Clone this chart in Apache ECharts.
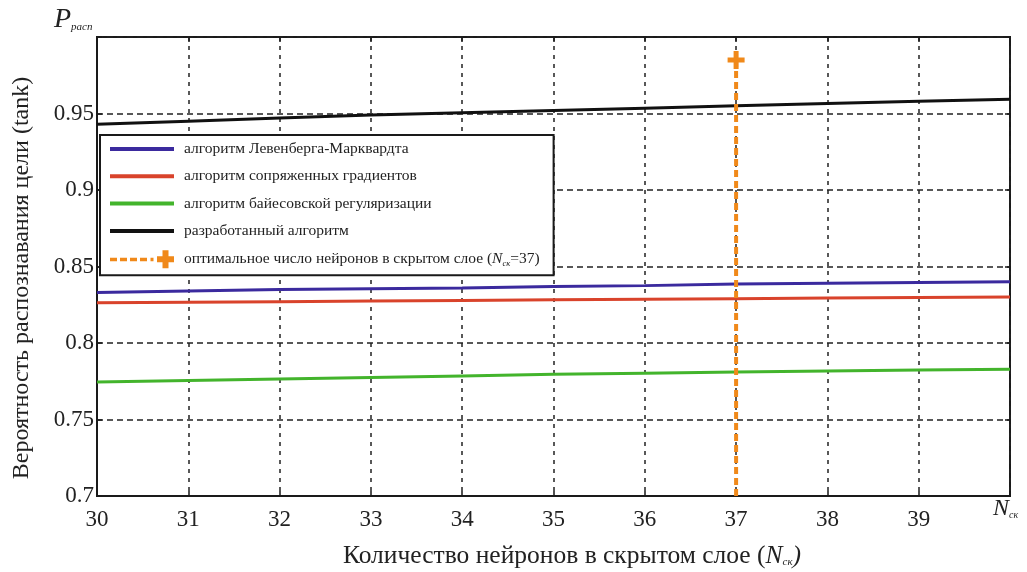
<!DOCTYPE html>
<html>
<head>
<meta charset="utf-8">
<script src="https://cdn.jsdelivr.net/npm/echarts@6/dist/echarts.min.js"></script>
<style>
  html, body { margin: 0; padding: 0; background: #ffffff; }
  #chart { width: 1027px; height: 572px; }
</style>
</head>
<body>
<div id="chart"></div>
<script>
// Hidden-layer size (number of neurons)
const neurons = [30, 31, 32, 33, 34, 35, 36, 37, 38, 39, 40];

// Recognition probability for each training algorithm
const levenbergMarquardt = [0.833, 0.834, 0.835, 0.8355, 0.836, 0.837, 0.8375, 0.8385, 0.839, 0.8395, 0.840];
const conjugateGradient  = [0.8263, 0.8267, 0.827, 0.8274, 0.8278, 0.8282, 0.8286, 0.829, 0.8294, 0.8298, 0.8301];
const bayesianReg        = [0.7745, 0.7755, 0.7765, 0.7775, 0.7785, 0.7795, 0.7803, 0.781, 0.7817, 0.7823, 0.7828];
const developedAlgo      = [0.943, 0.945, 0.947, 0.949, 0.9505, 0.952, 0.9535, 0.955, 0.9565, 0.958, 0.9593];

// Optimal hidden-layer size marker
const optimalN = 37;
const optimalSpan = [0.7, 0.985];

// Axis ranges and tick steps
const xRange = [30, 40];
const yRange = [0.7, 1.0];
const xStep = 1;
const yStep = 0.05;

const seriesNames = [
  'алгоритм Левенберга-Марквардта',
  'алгоритм сопряженных градиентов',
  'алгоритм байесовской регуляризации',
  'разработанный алгоритм',
  'оптимальное число нейронов в скрытом слое'
];

const SERIF = '"Liberation Serif", "DejaVu Serif", serif';
const plusPath = 'path://M6,0h5v6.5h6v5h-6v6.5h-5v-6.5h-6v-5h6z';
const optimumLegendIcon = 'path://M0,7.5h7v3.5h-7z M10,7.5h7v3.5h-7z M20,7.5h7v3.5h-7z M30,7.5h7v3.5h-7z M40.5,7.5h3v3.5h-3z M52.5,0h6v6h5.5v6h-5.5v6h-6v-6h-5.5v-6h5.5z';

function pairs(ys) { return neurons.map((n, i) => [n, ys[i]]); }

const chart = echarts.init(document.getElementById('chart'), null, { renderer: 'canvas' });

const lineSeries = (name, data, color) => ({
  name, type: 'line', data: pairs(data), symbol: 'none', smooth: false,
  color, lineStyle: { color, width: 3 }, z: 3
});

// legend entries for plain lines: line sample only, no marker
const plainEntry = name => ({ name, itemStyle: { opacity: 0 }, lineStyle: { width: 4 } });

chart.setOption({
  backgroundColor: '#ffffff',
  animation: false,
  grid: {
    left: 97, right: 17, top: 37, bottom: 76,
    show: true, borderColor: '#1a1a1a', borderWidth: 2, backgroundColor: 'transparent'
  },
  xAxis: [{
    type: 'value', min: xRange[0], max: xRange[1], interval: xStep,
    axisLine: { show: true, onZero: false, lineStyle: { color: '#1a1a1a', width: 2 } },
    axisTick: { show: true, inside: true, length: 5, lineStyle: { color: '#1a1a1a', width: 1.5 } },
    axisLabel: {
      margin: 12, color: '#222', fontFamily: SERIF, fontSize: 23,
      formatter: v => (v >= xRange[1] ? '' : String(v))
    },
    splitLine: { show: true, lineStyle: { color: '#222', width: 1.5, type: [4, 5] } }
  }, {
    type: 'value', min: xRange[0], max: xRange[1], interval: xStep, position: 'top',
    axisLine: { show: false },
    axisTick: { show: true, inside: true, length: 5, lineStyle: { color: '#1a1a1a', width: 1.5 } },
    axisLabel: { show: false }, splitLine: { show: false }
  }],
  yAxis: [{
    type: 'value', min: yRange[0], max: yRange[1], interval: yStep,
    axisLine: { show: true, onZero: false, lineStyle: { color: '#1a1a1a', width: 2 } },
    axisTick: { show: true, inside: true, length: 5, lineStyle: { color: '#1a1a1a', width: 1.5 } },
    axisLabel: {
      margin: 3, color: '#222', fontFamily: SERIF, fontSize: 23,
      formatter: v => (v >= yRange[1] - 1e-9 ? '' : String(+v.toFixed(2)))
    },
    splitLine: { show: true, lineStyle: { color: '#222', width: 1.5, type: [6, 4] } }
  }, {
    type: 'value', min: yRange[0], max: yRange[1], interval: yStep, position: 'right',
    axisLine: { show: false },
    axisTick: { show: true, inside: true, length: 5, lineStyle: { color: '#1a1a1a', width: 1.5 } },
    axisLabel: { show: false }, splitLine: { show: false }
  }],
  legend: {
    orient: 'vertical', left: 100, top: 135,
    padding: [6, 14, 7, 8],
    itemWidth: 64, itemHeight: 18, itemGap: 11.3,
    backgroundColor: '#ffffff', borderColor: '#1a1a1a', borderWidth: 2, borderRadius: 0,
    textStyle: {
      fontFamily: SERIF, fontSize: 15.5, color: '#222', padding: [0, 0, 0, 5],
      rich: {
        i: { fontFamily: SERIF, fontSize: 15.5, fontStyle: 'italic', color: '#222' },
        s: { fontFamily: SERIF, fontSize: 8.5, fontStyle: 'italic', color: '#222', padding: [9, 0, 0, 0] }
      }
    },
    formatter: name => (name === seriesNames[4] ? name + ' ({i|N}{s|ск}=37)' : name),
    data: [
      plainEntry(seriesNames[0]),
      plainEntry(seriesNames[1]),
      plainEntry(seriesNames[2]),
      plainEntry(seriesNames[3]),
      { name: seriesNames[4], icon: optimumLegendIcon }
    ]
  },
  series: [
    lineSeries(seriesNames[0], levenbergMarquardt, '#3b2a9e'),
    lineSeries(seriesNames[1], conjugateGradient, '#d9432b'),
    lineSeries(seriesNames[2], bayesianReg, '#43b42c'),
    lineSeries(seriesNames[3], developedAlgo, '#111111'),
    {
      name: seriesNames[4], type: 'line', color: '#f0891a', z: 4,
      lineStyle: { color: '#f0891a', width: 4, type: [7, 4] },
      itemStyle: { color: '#f0891a' },
      data: [
        { value: [optimalN, optimalSpan[0]], symbol: 'none' },
        { value: [optimalN, optimalSpan[1]], symbol: plusPath, symbolSize: [17, 18] }
      ]
    }
  ],
  graphic: [
    {
      type: 'text', left: 54, top: 6,
      style: {
        text: '{p|P}{s|расп}', fill: '#222',
        rich: {
          p: { fontFamily: SERIF, fontSize: 28, fontStyle: 'italic', fill: '#222' },
          s: { fontFamily: SERIF, fontSize: 11, fontStyle: 'italic', fill: '#222', padding: [15, 0, 0, 0] }
        }
      }
    },
    {
      type: 'text', left: 993, top: 497,
      style: {
        text: '{n|N}{s|ск}', fill: '#222',
        rich: {
          n: { fontFamily: SERIF, fontSize: 24, fontStyle: 'italic', fill: '#222' },
          s: { fontFamily: SERIF, fontSize: 10, fontStyle: 'italic', fill: '#222', padding: [12, 0, 0, 0] }
        }
      }
    },
    {
      type: 'text', x: 572, y: 556,
      style: {
        text: 'Количество нейронов в скрытом слое ({n|N}{s|ск}{n|)}', fill: '#222',
        font: '25.5px ' + SERIF, align: 'center', verticalAlign: 'middle',
        rich: {
          n: { fontFamily: SERIF, fontSize: 25.5, fontStyle: 'italic', fill: '#222' },
          s: { fontFamily: SERIF, fontSize: 11, fontStyle: 'italic', fill: '#222', padding: [13, 0, 0, 0] }
        }
      }
    },
    {
      type: 'text', x: 22, y: 278, rotation: Math.PI / 2,
      style: {
        text: 'Вероятность распознавания цели (tank)', fill: '#222',
        font: '24px ' + SERIF, align: 'center', verticalAlign: 'middle'
      }
    }
  ]
});
</script>
</body>
</html>
